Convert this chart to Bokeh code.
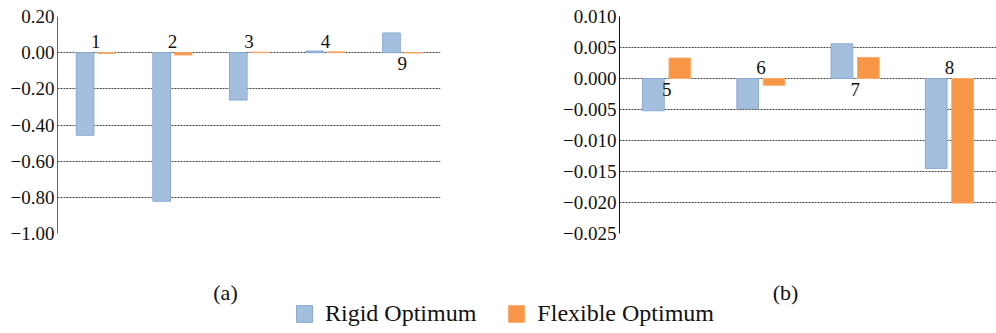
from bokeh.plotting import figure
from bokeh.models import (Range1d, FactorRange, ColumnDataSource, Legend, LegendItem,
                          Label, FixedTicker)
from bokeh.transform import dodge
from bokeh.layouts import column, row
from bokeh.embed import file_html
from bokeh.resources import INLINE
from bokeh.core.properties import value

# ---------------- data ----------------
cases_a = ["1", "2", "3", "4", "9"]
rigid_a = [-0.457, -0.822, -0.262, 0.009, 0.109]
flex_a = [-0.004, -0.013, 0.003, 0.005, -0.002]

cases_b = ["5", "6", "7", "8"]
rigid_b = [-0.0052, -0.0048, 0.0056, -0.0145]
flex_b = [0.0033, -0.0011, 0.0034, -0.0201]

ticks_a = [-1.0, -0.8, -0.6, -0.4, -0.2, 0.0, 0.2]
tick_labels_a = ["\u22121.00", "\u22120.80", "\u22120.60", "\u22120.40", "\u22120.20", "0.00", "0.20"]
ticks_b = [-0.025, -0.02, -0.015, -0.01, -0.005, 0.0, 0.005, 0.01]
tick_labels_b = ["\u22120.025", "\u22120.020", "\u22120.015", "\u22120.010", "\u22120.005",
                 "0.000", "0.005", "0.010"]

series_names = ["Rigid Optimum", "Flexible Optimum"]
captions = ["(a)", "(b)"]

# ---------------- style ----------------
FONT = "Liberation Serif"
BLUE, BLUE_EDGE = "#a4bfde", "#8aaad4"
ORANGE, ORANGE_EDGE = "#f79646", "#f9ac6c"
GRID = "#444444"
label_above_a = [True, True, True, True, False]
label_above_b = [False, True, False, True]


def panel(cases, rigid, flex, ticks, tick_labels, yr, above, width, height,
          borders, axis_color):
    src = ColumnDataSource(dict(case=cases, rigid=rigid, flex=flex,
                                zero=[0.0] * len(cases),
                                yoff=[-11 if a else 11 for a in above]))
    p = figure(x_range=FactorRange(factors=cases, range_padding=0),
               y_range=Range1d(*yr), width=width, height=height,
               output_backend="svg", toolbar_location=None,
               min_border_left=borders[0], min_border_right=borders[1],
               min_border_top=borders[2], min_border_bottom=borders[3])
    p.vbar(x=dodge("case", -0.14, range=p.x_range), top="rigid", width=0.23,
           source=src, fill_color=BLUE, line_color=BLUE_EDGE, line_width=1)
    p.vbar(x=dodge("case", 0.14, range=p.x_range), top="flex", width=0.23,
           source=src, fill_color=ORANGE, line_color=ORANGE_EDGE, line_width=1)
    p.text(x="case", y="zero", text="case", y_offset="yoff", source=src,
           text_font=value(FONT), text_font_size="19px", text_align="center",
           text_baseline="middle", text_color="#111111")
    p.xaxis.visible = False
    p.xgrid.visible = False
    p.yaxis.ticker = FixedTicker(ticks=ticks)
    p.yaxis.major_label_overrides = dict(zip(ticks, tick_labels))
    p.yaxis.major_label_text_font = FONT
    p.yaxis.major_label_text_font_size = "19px"
    p.yaxis.major_label_text_color = "#111111"
    p.yaxis.major_tick_out = 0
    p.yaxis.major_tick_in = 0
    p.yaxis.minor_tick_out = 0
    p.yaxis.minor_tick_in = 0
    p.yaxis.major_label_standoff = 3
    p.yaxis.axis_line_color = axis_color
    p.yaxis.axis_line_width = 1
    p.ygrid.grid_line_color = GRID
    p.ygrid.grid_line_dash = "2 1"
    p.ygrid.grid_line_width = 1
    p.outline_line_color = None
    p.background_fill_color = "white"
    return p


pa = panel(cases_a, rigid_a, flex_a, ticks_a, tick_labels_a, (-1.0, 0.2),
           label_above_a, 445, 268, (57, 5, 16, 35), "#666666")
pb = panel(cases_b, rigid_b, flex_b, ticks_b, tick_labels_b, (-0.025, 0.010),
           label_above_b, 551, 268, (174, 0, 10, 17), "#111111")

# bottom strip: captions and legend (ranges in page pixels)
pl = figure(width=996, height=65, x_range=Range1d(0, 996), y_range=Range1d(333, 268),
            output_backend="svg", toolbar_location=None,
            min_border_left=0, min_border_right=0, min_border_top=0, min_border_bottom=0)
pl.axis.visible = False
pl.grid.visible = False
pl.outline_line_color = None
for cx, txt in zip([225, 785], captions):
    pl.add_layout(Label(x=cx, y=292, text=txt, text_font=FONT, text_font_size="22px",
                        text_align="center", text_baseline="middle", text_color="#111111"))

# zero-size swatch renderers for the legend (nothing visible in the strip)
leg_src = ColumnDataSource(dict(name=series_names, x=[0.0, 0.0], top=[333.0, 333.0],
                                color=[BLUE, ORANGE], edge=[BLUE_EDGE, ORANGE_EDGE]))
r_leg = pl.vbar(x="x", top="top", bottom="top", width=0.0, source=leg_src,
                fill_color="color", line_color="edge")
legend = Legend(items=[LegendItem(label=series_names[0], renderers=[r_leg], index=0),
                       LegendItem(label=series_names[1], renderers=[r_leg], index=1)],
                orientation="horizontal", location=(294, 6),
                glyph_width=20, glyph_height=21, label_standoff=11, spacing=30,
                padding=0, margin=0, border_line_color=None, background_fill_alpha=0,
                label_text_font=FONT, label_text_font_size="24px",
                label_text_color="#111111")
pl.add_layout(legend, "center")

layout = column(row(pa, pb, spacing=0), pl, spacing=0)
open("out.html", "w").write(file_html(layout, INLINE))
